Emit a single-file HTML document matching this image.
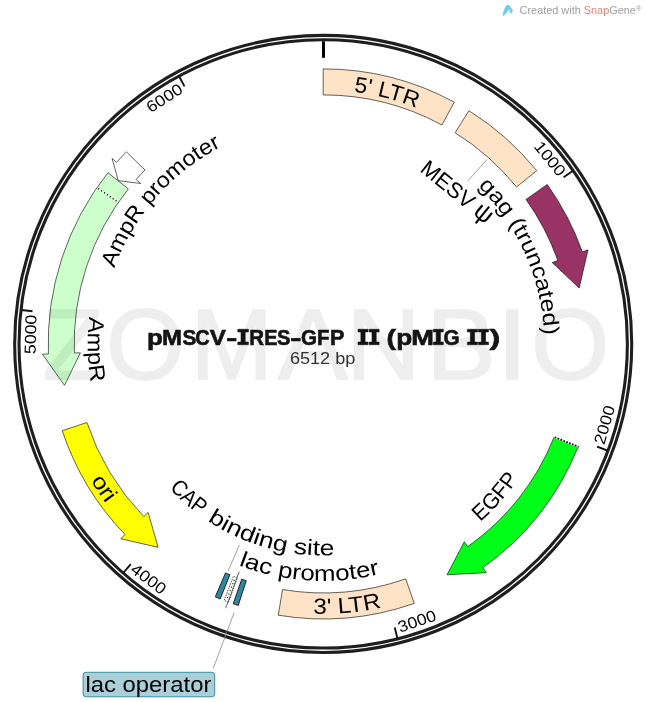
<!DOCTYPE html>
<html><head><meta charset="utf-8"><style>
html,body{margin:0;padding:0;background:#fff;overflow:hidden;}
svg{display:block;will-change:transform;}
text{font-family:"Liberation Sans", sans-serif;}
</style></head><body>
<svg width="647" height="702" viewBox="0 0 647 702">
<defs><path id="p1" d="M78.94,412.83 A253.8,253.8 0 1 1 505.03,520.97"/><path id="p2" d="M78.10,230.65 A270.0,270.0 0 1 0 543.83,188.26"/><path id="p3" d="M144.63,213.69 A221,221 0 1 1 299.72,563.65"/><path id="p4" d="M255.55,144.04 A211,211 0 1 0 530.11,385.24"/><path id="p5" d="M173.91,194.09 A211.5,211.5 0 1 0 527.59,289.52"/><path id="p6" d="M125.68,212.92 A237,237 0 1 0 535.39,238.34"/><path id="p7" d="M97.94,418.84 A237.4,237.4 0 1 0 370.94,111.35"/><path id="p8" d="M307.22,74.87 A269.5,269.5 0 1 0 564.17,464.57"/><path id="p9" d="M435.93,137.14 A235.5,235.5 0 1 0 445.90,544.91"/><path id="p10" d="M279.70,561.60 A222,222 0 1 1 533.48,272.72"/></defs>
<rect width="647" height="702" fill="#fff"/>
<circle cx="323.2" cy="343.9" r="306.35" fill="none" stroke="#1e1e1e" stroke-width="7.4"/>
<circle cx="323.2" cy="343.9" r="306.35" fill="none" stroke="#fff" stroke-width="1.3"/>
<path d="M323.5,41.299999999999955 L323.5,57.8" stroke="#000" stroke-width="3"/>
<path d="M572.67,171.05 L563.63,177.31" stroke="#111" stroke-width="1.9"/>
<text transform="translate(545.66,162.10) rotate(50.74)" x="0" y="0.00" font-size="16" font-weight="normal" fill="#000" text-anchor="middle" textLength="39.5" lengthAdjust="spacingAndGlyphs">1000</text>
<path d="M607.36,450.51 L597.06,446.65" stroke="#111" stroke-width="1.9"/>
<text transform="translate(609.81,426.23) rotate(-73.97)" x="0" y="0.00" font-size="16" font-weight="normal" fill="#000" text-anchor="middle" textLength="39.5" lengthAdjust="spacingAndGlyphs">2000</text>
<path d="M397.41,638.19 L394.72,627.52" stroke="#111" stroke-width="1.9"/>
<text transform="translate(418.76,626.37) rotate(-18.69)" x="0" y="0.00" font-size="16" font-weight="normal" fill="#000" text-anchor="middle" textLength="39.5" lengthAdjust="spacingAndGlyphs">3000</text>
<path d="M123.57,572.50 L130.80,564.22" stroke="#111" stroke-width="1.9"/>
<text transform="translate(145.44,583.33) rotate(36.59)" x="0" y="0.00" font-size="16" font-weight="normal" fill="#000" text-anchor="middle" textLength="39.5" lengthAdjust="spacingAndGlyphs">4000</text>
<path d="M21.60,310.00 L32.53,311.23" stroke="#111" stroke-width="1.9"/>
<text transform="translate(36.05,334.50) rotate(-88.13)" x="0" y="0.00" font-size="16" font-weight="normal" fill="#000" text-anchor="middle" textLength="39.5" lengthAdjust="spacingAndGlyphs">5000</text>
<path d="M179.29,76.69 L184.51,86.37" stroke="#111" stroke-width="1.9"/>
<text transform="translate(167.38,102.52) rotate(-32.84)" x="0" y="0.00" font-size="16" font-weight="normal" fill="#000" text-anchor="middle" textLength="39.5" lengthAdjust="spacingAndGlyphs">6000</text>
<path d="M323.20,68.90 A275.0,275.0 0 0 1 454.29,102.16 L441.90,125.01 A249.0,249.0 0 0 0 323.20,94.90 Z" fill="#ffe3c6" stroke="#000" stroke-opacity="0.6" stroke-width="1"/>
<path d="M468.93,110.69 A275.0,275.0 0 0 1 536.76,170.65 L516.57,187.03 A249.0,249.0 0 0 0 455.15,132.74 Z" fill="#ffe3c6" stroke="#000" stroke-opacity="0.6" stroke-width="1"/>
<path d="M547.22,184.40 A275.0,275.0 0 0 1 582.35,251.88 L588.00,249.87 L579.19,288.09 L552.19,262.59 L557.85,260.58 A249.0,249.0 0 0 0 526.04,199.48 Z" fill="#993366" stroke="#000" stroke-opacity="0.6" stroke-width="1"/>
<path d="M578.27,446.69 A275.0,275.0 0 0 1 482.89,567.78 L486.38,572.67 L447.01,574.80 L464.31,541.73 L467.80,546.61 A249.0,249.0 0 0 0 554.15,436.98 Z" fill="#00ff18" stroke="#000" stroke-opacity="0.6" stroke-width="1"/>
<path d="M414.27,603.38 A275.0,275.0 0 0 1 278.29,615.21 L282.53,589.56 A249.0,249.0 0 0 0 405.66,578.85 Z" fill="#ffe3c6" stroke="#000" stroke-opacity="0.6" stroke-width="1"/>
<path d="M62.26,430.70 A275.0,275.0 0 0 0 125.05,534.59 L120.73,538.75 L158.10,547.34 L148.11,512.40 L143.78,516.56 A249.0,249.0 0 0 1 86.93,422.50 Z" fill="#ffff00" stroke="#000" stroke-opacity="0.6" stroke-width="1"/>
<path d="M107.98,172.71 A275.0,275.0 0 0 0 48.38,353.98 L42.39,354.20 L64.50,385.34 L80.36,352.80 L74.37,353.02 A249.0,249.0 0 0 1 128.33,188.89 Z" fill="#ccffcc" stroke="#000" stroke-opacity="0.6" stroke-width="1"/>
<path d="M126.38,151.84 A275.0,275.0 0 0 0 116.60,162.40 L112.09,158.44 L118.30,180.62 L140.64,183.52 L136.14,179.56 A249.0,249.0 0 0 1 144.99,169.99 Z" fill="#ffffff" stroke="#000" stroke-opacity="0.6" stroke-width="1"/>
<path d="M238.22,605.44 A275.0,275.0 0 0 1 233.22,603.76 L241.72,579.19 A249.0,249.0 0 0 0 246.25,580.71 Z" fill="#31879f" stroke="#111" stroke-width="0.9"/>
<path d="M220.18,598.88 A275.0,275.0 0 0 1 215.31,596.85 L225.51,572.94 A249.0,249.0 0 0 0 229.92,574.77 Z" fill="#31879f" stroke="#111" stroke-width="0.9"/>
<path d="M228.47,602.07 A275.0,275.0 0 0 1 224.11,600.43 L233.48,576.17 A249.0,249.0 0 0 0 237.42,577.66 Z" fill="#fff" stroke="#222" stroke-width="0.9" stroke-dasharray="1.3,1.1"/>
<path d="M234.33,579.71 L226.92,599.36" stroke="#111" stroke-width="1.1" stroke-dasharray="1.1,2.6"/>
<path d="M239.20,571.60 L225.70,608.19" stroke="#555" stroke-width="0.9"/>
<path d="M553.87,436.86 L578.54,446.81" stroke="#fff" stroke-width="1.7"/>
<path d="M554.71,437.20 L578.54,446.81" stroke="#000" stroke-width="1.7" stroke-dasharray="1.7,1.4"/>
<path d="M117.93,202.08 L97.36,187.87" stroke="#fff" stroke-width="1.1"/>
<path d="M116.53,201.11 L97.36,187.87" stroke="#000" stroke-width="1.3" stroke-dasharray="1.2,2.3"/>
<path d="M467.94,180.88 L486.92,159.49" stroke="#888" stroke-width="0.8"/>
<path d="M228,571.1 L239.3,545.1" stroke="#888" stroke-width="0.8"/>
<path d="M234.2,612.5 L213.3,668.2" stroke="#888" stroke-width="0.8"/>
<text font-size="22" fill="#000"><textPath href="#p1" startOffset="50%" text-anchor="middle" textLength="65" lengthAdjust="spacingAndGlyphs">5' LTR</textPath></text>
<text font-size="22" fill="#000"><textPath href="#p2" startOffset="50%" text-anchor="middle" textLength="69" lengthAdjust="spacingAndGlyphs">3' LTR</textPath></text>
<text font-size="22" fill="#000"><textPath href="#p3" startOffset="50%" text-anchor="middle" textLength="167" lengthAdjust="spacingAndGlyphs">gag (truncated)</textPath></text>
<text font-size="22" fill="#000"><textPath href="#p4" startOffset="50%" text-anchor="middle" textLength="41" lengthAdjust="spacingAndGlyphs">CAP</textPath></text>
<text font-size="22" fill="#000"><textPath href="#p5" startOffset="50%" text-anchor="middle" textLength="134" lengthAdjust="spacingAndGlyphs">binding site</textPath></text>
<text font-size="22" fill="#000"><textPath href="#p6" startOffset="50%" text-anchor="middle" textLength="144" lengthAdjust="spacingAndGlyphs">lac promoter</textPath></text>
<text transform="translate(457.45,191.63) rotate(38.90)" x="0" y="7.92" font-size="22" font-weight="normal" fill="#000" text-anchor="middle" textLength="86" lengthAdjust="spacingAndGlyphs">MESV <tspan font-size='25'>ψ</tspan></text>
<text font-size="22" fill="#000"><textPath href="#p7" startOffset="50%" text-anchor="middle" textLength="58" lengthAdjust="spacingAndGlyphs">EGFP</textPath></text>
<text font-size="22" fill="#000"><textPath href="#p8" startOffset="50%" text-anchor="middle" textLength="27.7" lengthAdjust="spacingAndGlyphs">ori</textPath></text>
<text font-size="22" fill="#000"><textPath href="#p9" startOffset="50%" text-anchor="middle" textLength="66" lengthAdjust="spacingAndGlyphs">AmpR</textPath></text>
<text font-size="22" fill="#000"><textPath href="#p10" startOffset="50%" text-anchor="middle" textLength="166" lengthAdjust="spacingAndGlyphs">AmpR promoter</textPath></text>
<rect x="83.1" y="672.3" width="131.6" height="24.5" rx="3" fill="#aacfd9" stroke="#3a8ca3" stroke-width="1"/>
<text x="85.4" y="691.8" font-size="22" textLength="126" lengthAdjust="spacingAndGlyphs">lac operator</text>
<g fill="#141414" stroke="#141414" stroke-width="0.6"><text transform="translate(146.88,344.8) scale(1.182,1)" font-size="22" font-weight="bold">p</text><text transform="translate(162.12,344.8) scale(1.091,1)" font-size="22" font-weight="bold">M</text><text transform="translate(182.38,344.8) scale(0.947,1)" font-size="22" font-weight="bold">S</text><text transform="translate(195.20,344.8) scale(0.909,1)" font-size="22" font-weight="bold">C</text><text transform="translate(209.76,344.8) scale(1.098,1)" font-size="22" font-weight="bold">V</text><text transform="translate(226.27,344.8) scale(1.509,1)" font-size="22" font-weight="bold">-</text><path d="M237.80,329.3 h10.60 v2.6 h-3.20 v10.2 h3.20 v2.6 h-10.60 v-2.6 h3.20 v-10.2 h-3.20 Z"/><text transform="translate(249.37,344.8) scale(0.931,1)" font-size="22" font-weight="bold">R</text><text transform="translate(264.21,344.8) scale(0.901,1)" font-size="22" font-weight="bold">E</text><text transform="translate(277.00,344.8) scale(0.917,1)" font-size="22" font-weight="bold">S</text><text transform="translate(290.16,344.8) scale(1.527,1)" font-size="22" font-weight="bold">-</text><text transform="translate(300.88,344.8) scale(0.936,1)" font-size="22" font-weight="bold">G</text><text transform="translate(316.97,344.8) scale(0.927,1)" font-size="22" font-weight="bold">F</text><text transform="translate(329.89,344.8) scale(0.982,1)" font-size="22" font-weight="bold">P</text><path d="M358.00,329.3 h10.00 v2.6 h-2.90 v10.2 h2.90 v2.6 h-10.00 v-2.6 h2.90 v-10.2 h-2.90 Z"/><path d="M369.10,329.3 h10.00 v2.6 h-2.90 v10.2 h2.90 v2.6 h-10.00 v-2.6 h2.90 v-10.2 h-2.90 Z"/><text transform="translate(386.57,344.8) scale(1.299,1)" font-size="22" font-weight="bold">(</text><text transform="translate(396.27,344.8) scale(1.191,1)" font-size="22" font-weight="bold">p</text><text transform="translate(411.29,344.8) scale(1.240,1)" font-size="22" font-weight="bold">M</text><path d="M433.30,329.3 h10.00 v2.6 h-2.90 v10.2 h2.90 v2.6 h-10.00 v-2.6 h2.90 v-10.2 h-2.90 Z"/><text transform="translate(443.47,344.8) scale(0.943,1)" font-size="22" font-weight="bold">G</text><path d="M467.40,329.3 h10.10 v2.6 h-2.95 v10.2 h2.95 v2.6 h-10.10 v-2.6 h2.95 v-10.2 h-2.95 Z"/><path d="M478.50,329.3 h10.00 v2.6 h-2.90 v10.2 h2.90 v2.6 h-10.00 v-2.6 h2.90 v-10.2 h-2.90 Z"/><text transform="translate(489.50,344.8) scale(1.477,1)" font-size="22" font-weight="bold">)</text></g>
<text x="289.9" y="363.9" font-size="16.8" textLength="65.4" lengthAdjust="spacingAndGlyphs" fill="#333">6512 bp</text>
<g opacity="0.062" fill="#000" stroke="#000" stroke-width="1.8" stroke-linejoin="round"><text transform="translate(42.60,378.7) scale(1.000,1)" font-size="100">Z</text><text transform="translate(106.05,378.7) scale(1.010,1)" font-size="100">O</text><text transform="translate(190.83,378.7) scale(0.984,1)" font-size="100">M</text><text transform="translate(277.90,378.7) scale(1.048,1)" font-size="100">A</text><text transform="translate(346.27,378.7) scale(1.029,1)" font-size="100">N</text><text transform="translate(426.60,378.7) scale(1.038,1)" font-size="100">B</text><text transform="translate(496.82,378.7) scale(1.120,1)" font-size="100">I</text><text transform="translate(531.06,378.7) scale(1.007,1)" font-size="100">O</text></g>
<path d="M502.7,15.6 C503.2,11.5 504.6,7.5 506.6,5.2 C507.8,4.9 509,5 509.6,5.8 C510.8,7.6 512.2,9.2 512.9,10.6 C512.5,12 511.4,13.4 510.2,13.8 C509.9,12.5 509.7,10.6 509.3,9.3 C507.6,11.3 505.2,14.2 503.6,15.9 Z" fill="#6fcbea"/>
<text x="519.6" y="14" font-size="10.9" fill="#a0a0a0">Created with <tspan fill="#e5857a">Snap</tspan>Gene<tspan font-size="7" dx="0.3" dy="-3.5">®</tspan></text>
</svg></body></html>
